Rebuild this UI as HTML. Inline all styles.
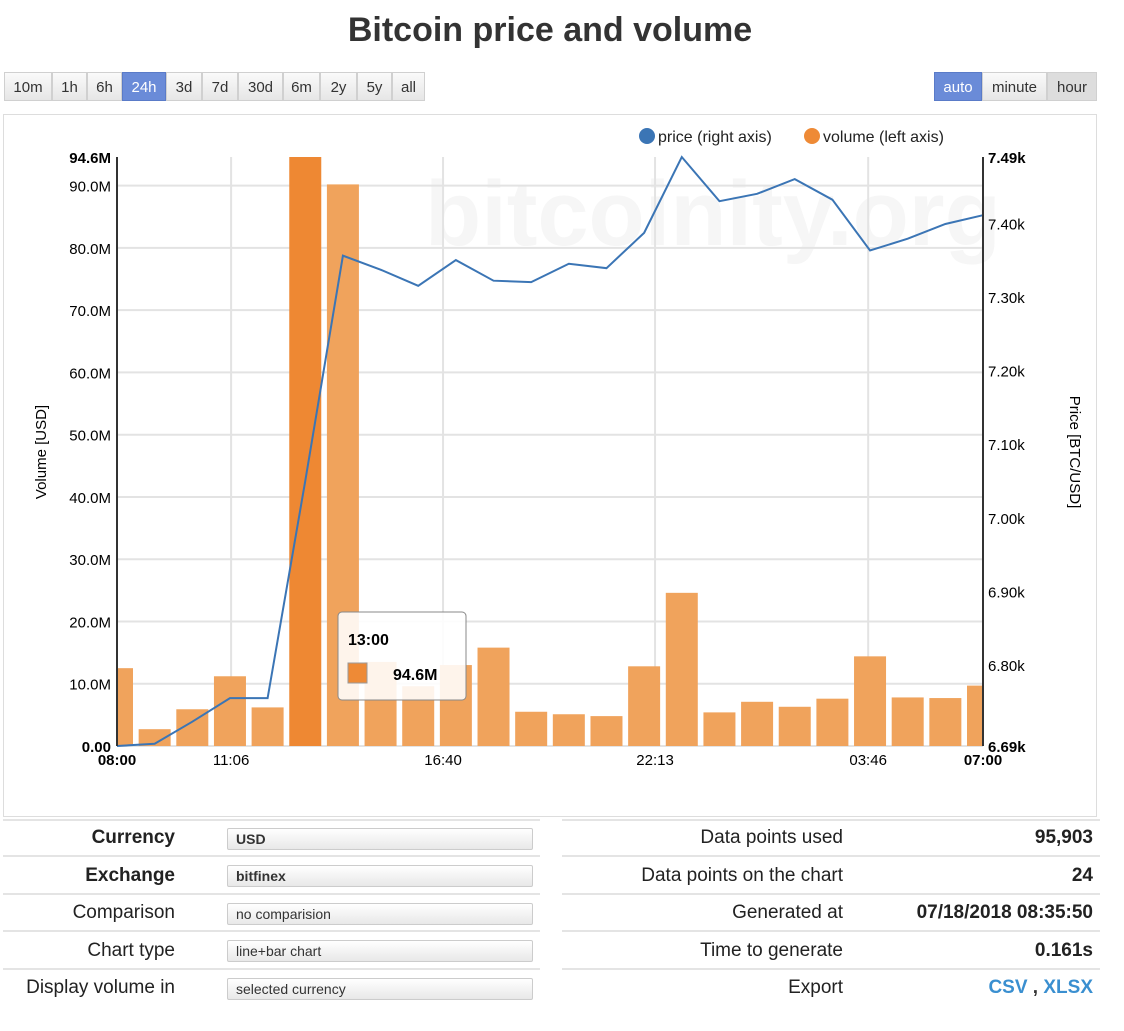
<!DOCTYPE html>
<html><head><meta charset="utf-8"><style>
body{margin:0;width:1124px;height:1031px;background:#fff;font-family:"Liberation Sans",sans-serif;position:relative;overflow:hidden;color:#222}
.abs{position:absolute}
.btn{position:absolute;top:72px;height:29px;line-height:29px;text-align:center;font-size:15px;color:#333;background:linear-gradient(#fafafa,#e6e6e6);border:1px solid #d0d0d0;box-sizing:border-box}
.btn.on{background:#6a8bd8;color:#fff;border-color:#5a7bc8}
.lab{position:absolute;font-size:19px;text-align:right;width:170px;left:5px}
.sel{position:absolute;left:227px;width:306px;height:22px;border:1px solid #ccc;border-radius:2px;background:linear-gradient(#fff,#e8e8e8);box-sizing:border-box;font-size:14px;line-height:21px;padding-left:8px;color:#333}
.rl{position:absolute;font-size:19px;text-align:right;width:300px;left:543px}
.rv{position:absolute;font-size:19px;font-weight:bold;text-align:right;width:250px;left:843px}
.hr{position:absolute;height:2px;background:#e4e4e4}
</style></head><body>
<div class="abs" style="left:0;width:1100px;top:11px;text-align:center;font-size:34px;font-weight:bold;color:#333">Bitcoin price and volume</div>

<div class="btn" style="left:4px;width:48px">10m</div>
<div class="btn" style="left:52px;width:35px">1h</div>
<div class="btn" style="left:87px;width:35px">6h</div>
<div class="btn on" style="left:122px;width:44px">24h</div>
<div class="btn" style="left:166px;width:36px">3d</div>
<div class="btn" style="left:202px;width:36px">7d</div>
<div class="btn" style="left:238px;width:45px">30d</div>
<div class="btn" style="left:283px;width:37px">6m</div>
<div class="btn" style="left:320px;width:37px">2y</div>
<div class="btn" style="left:357px;width:35px">5y</div>
<div class="btn" style="left:392px;width:33px">all</div>
<div class="btn on" style="left:934px;width:48px">auto</div>
<div class="btn" style="left:982px;width:65px">minute</div>
<div class="btn" style="left:1047px;width:50px;background:#ddd">hour</div>

<div class="abs" style="left:3px;top:114px;width:1094px;height:703px;border:1px solid #ddd;box-sizing:border-box"></div>
<svg class="abs" style="left:0;top:0" width="1124" height="820" font-family="Liberation Sans, sans-serif">
<text x="425" y="245" font-size="92" font-weight="bold" fill="#f6f6f6">bitcoinity.org</text>
<g id="grid"></g><g id="bars"></g><g id="line"></g><g id="axes"></g>
<g>
<circle cx="647" cy="136" r="8" fill="#3b75b5"/><text x="658" y="142" font-size="16" fill="#222">price (right axis)</text>
<circle cx="812" cy="136" r="8" fill="#ee8a36"/><text x="823" y="142" font-size="16" fill="#222">volume (left axis)</text>
</g>
<text transform="translate(46,452) rotate(-90)" text-anchor="middle" font-size="15">Volume [USD]</text>
<text transform="translate(1070,452) rotate(90)" text-anchor="middle" font-size="15">Price [BTC/USD]</text>
<g>
<rect x="338" y="612" width="128" height="88" rx="4" fill="rgba(255,255,255,0.88)" stroke="#888"/>
<text x="348" y="645" font-size="16" font-weight="bold">13:00</text>
<rect x="348" y="663" width="19" height="20" fill="#ee8a36" stroke="#999"/>
<text x="393" y="680" font-size="16" font-weight="bold">94.6M</text>
</g>
</svg>
<script>
const categories=["08:00","09:00","10:00","11:00","12:00","13:00","14:00","15:00","16:00","17:00","18:00","19:00","20:00","21:00","22:00","23:00","00:00","01:00","02:00","03:00","04:00","05:00","06:00","07:00"];
const volumes=[12.5,2.7,5.9,11.2,6.2,94.6,90.2,13.5,9.6,13.0,15.8,5.5,5.1,4.8,12.8,24.6,5.4,7.1,6.3,7.6,14.4,7.8,7.7,9.7];
const prices=[6.690,6.693,6.723,6.755,6.755,7.05,7.356,7.337,7.315,7.350,7.322,7.320,7.345,7.339,7.387,7.490,7.430,7.440,7.460,7.432,7.363,7.379,7.399,7.411];
const volTicks=[0,10,20,30,40,50,60,70,80,90];
const priceTicks=[6.80,6.90,7.00,7.10,7.20,7.30,7.40];
const xLabels=[["08:00",0,true],["11:06",3.03,false],["16:40",8.66,false],["22:13",14.29,false],["03:46",19.95,false],["07:00",23,true]];
const X0=117,X1=983,Y0=746,Y1=157,VMAX=94.6,PMIN=6.69,PMAX=7.49;
const xs=i=>X0+i*(X1-X0)/(categories.length-1);
const yv=v=>Y0-v/VMAX*(Y0-Y1);
const yp=p=>Y0-(p-PMIN)/(PMAX-PMIN)*(Y0-Y1);
const NS="http://www.w3.org/2000/svg";
function mk(t,a,p,txt){const e=document.createElementNS(NS,t);for(const k in a)e.setAttribute(k,a[k]);if(txt!=null)e.textContent=txt;p.appendChild(e);return e;}
const G=document.getElementById('grid'),B=document.getElementById('bars'),L=document.getElementById('line'),A=document.getElementById('axes');
volTicks.forEach(v=>{const l=mk('line',{x1:X0,x2:X1,y1:yv(v),y2:yv(v),stroke:'#e3e3e3','stroke-width':2},G);


const t=mk('text',{x:111,y:yv(v)+6,'text-anchor':'end','font-size':15,'font-weight':v===0?'bold':'normal'},A,v===0?'0.00':v.toFixed(1)+'M');

});
const tm=mk('text',{x:111,y:Y1+6,'text-anchor':'end','font-size':15,'font-weight':'bold'},A,VMAX.toFixed(1)+'M');


xLabels.forEach(([s,i,b])=>{const x=xs(i);
if(!b){const l=mk('line',{x1:x,x2:x,y1:Y1,y2:Y0,stroke:'#e3e3e3','stroke-width':2},G);

}
const t=mk('text',{x:x,y:765,'text-anchor':'middle','font-size':15,'font-weight':b?'bold':'normal'},A,s);

});
const bw=32;
volumes.forEach((v,i)=>{let x=xs(i)-bw/2,w=bw;if(x<X0){w-=X0-x;x=X0;}if(x+w>X1)w=X1-x;
const r=mk('rect',{x:x,y:yv(v),width:w,height:Y0-yv(v),fill:i===5?'#ee8833':'#f0a35c'},B);

});
const pl=mk('polyline',{points:prices.map((p,i)=>xs(i)+','+yp(p)).join(' '),fill:'none',stroke:'#3b75b5','stroke-width':2},L);


priceTicks.forEach(p=>{const t=mk('text',{x:988,y:yp(p)+6,'font-size':15},A,p.toFixed(2)+'k');

});
[[PMIN,'6.69k'],[PMAX,'7.49k']].forEach(([p,s])=>{const t=mk('text',{x:988,y:yp(p)+6,'font-size':15,'font-weight':'bold'},A,s);

});
mk('line',{x1:X0,x2:X0,y1:Y1,y2:Y0,stroke:'#333','stroke-width':2},A);
mk('line',{x1:X1,x2:X1,y1:Y1,y2:Y0,stroke:'#333','stroke-width':2},A);
</script>

<div class="hr" style="left:3px;top:819px;width:537px"></div><div class="hr" style="left:562px;top:819px;width:538px"></div>
<div class="hr" style="left:3px;top:855px;width:537px"></div><div class="hr" style="left:562px;top:855px;width:538px"></div>
<div class="hr" style="left:3px;top:893px;width:537px"></div><div class="hr" style="left:562px;top:893px;width:538px"></div>
<div class="hr" style="left:3px;top:930px;width:537px"></div><div class="hr" style="left:562px;top:930px;width:538px"></div>
<div class="hr" style="left:3px;top:968px;width:537px"></div><div class="hr" style="left:562px;top:968px;width:538px"></div>

<div class="lab" style="top:827px;font-weight:bold">Currency</div>
<div class="sel" style="top:828px;font-weight:bold">USD</div>
<div class="lab" style="top:865px;font-weight:bold">Exchange</div>
<div class="sel" style="top:865px;font-weight:bold">bitfinex</div>
<div class="lab" style="top:902px">Comparison</div>
<div class="sel" style="top:903px">no comparision</div>
<div class="lab" style="top:940px">Chart type</div>
<div class="sel" style="top:940px">line+bar chart</div>
<div class="lab" style="top:977px">Display volume in</div>
<div class="sel" style="top:978px">selected currency</div>

<div class="rl" style="top:827px">Data points used</div>
<div class="rv" style="top:827px">95,903</div>
<div class="rl" style="top:865px">Data points on the chart</div>
<div class="rv" style="top:865px">24</div>
<div class="rl" style="top:902px">Generated at</div>
<div class="rv" style="top:902px">07/18/2018 08:35:50</div>
<div class="rl" style="top:940px">Time to generate</div>
<div class="rv" style="top:940px">0.161s</div>
<div class="rl" style="top:977px">Export</div>
<div class="rv" style="top:977px;color:#3a8fd0"><span>CSV</span><span style="color:#333"> , </span><span>XLSX</span></div>
</body></html>
